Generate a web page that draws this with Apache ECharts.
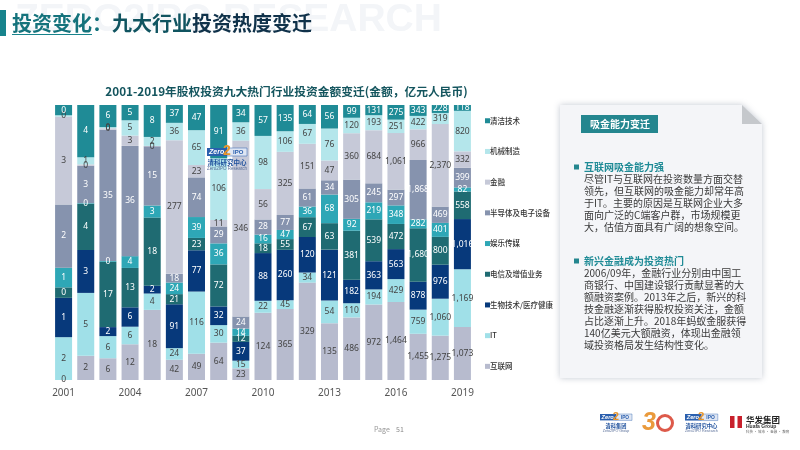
<!DOCTYPE html>
<html>
<head>
<meta charset="utf-8">
<style>html,body{margin:0;background:#fff}#main{width:800px;height:450px}</style>
</head>
<body>
<div id="main"></div>
<script src="https://cdn.jsdelivr.net/npm/echarts@6/dist/echarts.min.js"></script>
<script>
const years = ['2001','2002','2003','2004','2005','2006','2007','2008','2009','2010','2011','2012','2013','2014','2015','2016','2017','2018','2019']

// 金额，亿元人民币（早期年份按柱高估到小数，标签四舍五入）
const internet = [0,1.94,5.8,11.8,18,42,49,64,23,124,365,329,135,486,972,1464,1455,1275,1073]
const itSector = [1.59,5.04,5.9,5.8,4.2,24,116,30,15,22,45,34,54,110,194,429,759,1060,1169]
const biotech = [1.46,3.44,2.4,6.4,2,91,77,32,37,88,260,120,121,182,363,563,878,976,1016]
const telecom = [0.39,3.7,17.4,13,17.5,21,23,72,12,18,55,67,63,381,539,472,1680,800,558]
const entertainment = [0.73,0.05,0.2,3.9,3.1,24,39,36,14,16,47,36,68,92,219,348,282,401,82]
const semiconductor = [2.35,3,35,36.4,15.2,18,74,29,24,28,77,61,34,305,245,297,1868,469,399]
const finance = [3.26,0.11,0.4,3.4,0.1,277,23,11,346,56,325,151,47,360,684,1061,966,2370,332]
const machinery = [0.05,0.58,0.3,5.05,2.3,36,65,106,36,98,106,67,76,120,193,251,422,319,820]
const cleantech = [0.38,4.18,5.9,5.05,8.2,37,47,91,34,57,135,64,56,99,131,275,343,228,118]

const seriesNames = ['互联网','IT','生物技术/医疗健康','电信及增值业务','娱乐传媒','半导体及电子设备','金融','机械制造','清洁技术']
const seriesValues = [internet, itSector, biotech, telecom, entertainment, semiconductor, finance, machinery, cleantech]
const seriesColors = ['#b7bbce','#a0e0e8','#07397b','#1f6b72','#2ea7b6','#8693ae','#c6c9d8','#b4e6eb','#1f8b96']
const labelColors = ['#444','#444','#fff','#fff','#fff','#fff','#444','#444','#fff']

const totals = years.map((y, i) => seriesValues.reduce((sum, arr) => sum + arr[i], 0))

const font = '"Noto Sans CJK SC", sans-serif'

// 正文文字
const panelTexts = [
  { head: '互联网吸金能力强', y: 167, lines: ['尽管IT与互联网在投资数量方面交替','领先，但互联网的吸金能力却常年高','于IT。主要的原因是互联网企业大多','面向广泛的C端客户群，市场规模更','大，估值方面具有广阔的想象空间。'] },
  { head: '新兴金融成为投资热门', y: 261, lines: ['2006/09年，金融行业分别由中国工','商银行、中国建设银行贡献显著的大','额融资案例。2013年之后，新兴的科','技金融逐渐获得股权投资关注，金额','占比逐渐上升。2018年蚂蚁金服获得','140亿美元大额融资，体现出金融领','域投资格局发生结构性变化。'] }
]

function txt(x, y, text, size, color, extra) {
  return {
    type: 'text', x, y, z: 20,
    style: Object.assign({ text, fill: color, font: size + 'px ' + font, textVerticalAlign: 'middle' }, extra || {})
  }
}

// 清科 logo
function zeroLogo(x, y, s, line1, line2) {
  return {
    type: 'group', x, y, scaleX: s, scaleY: s, z: 30,
    children: [
      { type: 'rect', shape: { x: 0, y: 0, width: 20, height: 8 }, style: { fill: '#2a5fae' }, z: 30 },
      { type: 'rect', shape: { x: 20, y: 0, width: 20, height: 8 }, style: { fill: '#dfe6f3', stroke: '#2a5fae', lineWidth: 0.5 }, z: 30 },
      { type: 'text', x: 2, y: 4, z: 31, style: { text: 'Zero', fill: '#fff', font: 'italic bold 7px "Liberation Sans"', textVerticalAlign: 'middle' } },
      { type: 'text', x: 16, y: 3.5, z: 32, style: { text: '2', fill: '#e9962b', font: 'bold 14px "Liberation Sans"', textVerticalAlign: 'middle' } },
      { type: 'text', x: 26, y: 4, z: 31, style: { text: 'IPO', fill: '#2a5fae', font: 'bold 6px "Liberation Sans"', textVerticalAlign: 'middle' } },
      { type: 'text', x: 20, y: 15, z: 31, style: { text: line1, fill: '#1d4f9c', font: 'bold 6.5px ' + font, textAlign: 'center', textVerticalAlign: 'middle' } },
      { type: 'text', x: 20, y: 21, z: 31, style: { text: line2, fill: '#5a6f99', font: '4.5px "Liberation Sans"', textAlign: 'center', textVerticalAlign: 'middle' } }
    ]
  }
}

const graphics = [
  // 水印
  txt(15, 20, 'ZERO2IPO RESEARCH', 39, '#f3f5f8', { font: 'bold 39px "Liberation Sans"' }),
  { type: 'rect', shape: { x: 0, y: 10, width: 6, height: 26 }, style: { fill: '#17838c' } },
  txt(12, 23, '投资变化：', 20, '#15737c', { font: 'bold 20px ' + font }),
  txt(112, 23, '九大行业', 20, '#105460', { font: 'bold 20px ' + font }),
  txt(192, 23, '投资热度变迁', 20, '#10324a', { font: 'bold 20px ' + font }),
  { type: 'rect', shape: { x: 12, y: 34, width: 80, height: 1 }, style: { fill: '#17838c' }, z: 21 },

  // 右侧面板
  { type: 'polygon', shape: { points: [[560,105],[742,105],[762,124],[762,378],[560,378]] }, z: 5,
    style: { fill: '#f4f5f8', shadowBlur: 6, shadowColor: 'rgba(120,130,150,0.45)' } },
  { type: 'polygon', shape: { points: [[742,105],[762,124],[742,124]] }, style: { fill: '#c5c8cc' }, z: 6 },
  { type: 'rect', shape: { x: 581, y: 115, width: 77, height: 18 }, style: { fill: '#24868f' }, z: 6 },
  txt(590, 124.5, '吸金能力变迁', 10, '#fff', { font: 'bold 10px ' + font }),

  txt(374, 429, 'Page', 7, '#999'),
  txt(396, 429, '51', 7, '#888'),

  zeroLogo(207, 148, 1, '清科研究中心', 'Zero2IPO Research'),
  zeroLogo(600, 414, 0.8, '清科集团', 'Zero2IPO Group'),
  zeroLogo(685, 414, 0.82, '清科研究中心', 'Zero2IPO Research'),

  // 30周年标
  txt(642, 423.5, '3', 25, '#ea9a3c', { font: 'italic bold 25px "Liberation Sans"' }),
  { type: 'circle', shape: { cx: 665, cy: 423, r: 7.5 }, style: { fill: 'none', stroke: '#dd5a4a', lineWidth: 3 }, z: 20 },

  // 华发
  { type: 'rect', shape: { x: 730, y: 416, width: 12, height: 12 }, style: { fill: '#c8202c' }, z: 20 },
  { type: 'rect', shape: { x: 734.5, y: 416, width: 3, height: 12 }, style: { fill: '#fff' }, z: 21 },
  txt(746, 419.5, '华发集团', 8.5, '#222', { font: 'bold 8.5px ' + font }),
  txt(746, 426.5, 'Huafa Group', 5, '#333', { font: 'bold 5px "Liberation Sans"' }),
  txt(746, 432, '科技 · 城市 · 金融 · 教育', 3.5, '#666')
]

panelTexts.forEach(block => {
  graphics.push({ type: 'rect', shape: { x: 574, y: block.y - 2.5, width: 5, height: 5 }, style: { fill: '#24868f' }, z: 20 })
  graphics.push(txt(584, block.y, block.head, 10, '#1f8b96', { font: 'bold 10px ' + font }))
  block.lines.forEach((line, i) => {
    graphics.push(txt(584, block.y + 12.1 * (i + 1), line, 10, '#3a3a3a'))
  })
})

const myChart = echarts.init(document.getElementById('main'))

myChart.setOption({
  animation: false,
  textStyle: { fontFamily: font },
  title: {
    text: '2001-2019年股权投资九大热门行业投资金额变迁(金额，亿元人民币)',
    left: 281.5, top: 81, textAlign: 'center',
    textStyle: { fontSize: 11.75, fontWeight: 'bold', color: '#14555e' }
  },
  legend: {
    orient: 'vertical', left: 480, top: 112,
    icon: 'rect', itemWidth: 5, itemHeight: 5, itemGap: 23.2,
    data: seriesNames.slice().reverse(),
    textStyle: { fontSize: 7.5, fontWeight: 500, color: '#333', padding: [0, 0, 0, -5] }
  },
  grid: { left: 52.5, top: 105, width: 421, height: 275 },
  xAxis: {
    type: 'category', data: years,
    axisLine: { show: false }, axisTick: { show: false },
    axisLabel: { interval: 2, fontSize: 10, color: '#555', margin: 8, fontFamily: '"Noto Sans"' }
  },
  yAxis: { type: 'value', min: 0, max: 100, show: false },
  series: seriesNames.map((name, s) => ({
    name, type: 'bar', stack: 'share', barWidth: 17,
    itemStyle: { color: seriesColors[s] },
    data: seriesValues[s].map((v, i) => v / totals[i] * 100),
    label: {
      show: true, position: 'inside', fontSize: 8.5, color: labelColors[s], fontFamily: '"Noto Sans"',
      formatter: p => Math.round(seriesValues[s][p.dataIndex]).toLocaleString('en-US')
    }
  })),
  graphic: graphics
})
</script>
</body>
</html>
